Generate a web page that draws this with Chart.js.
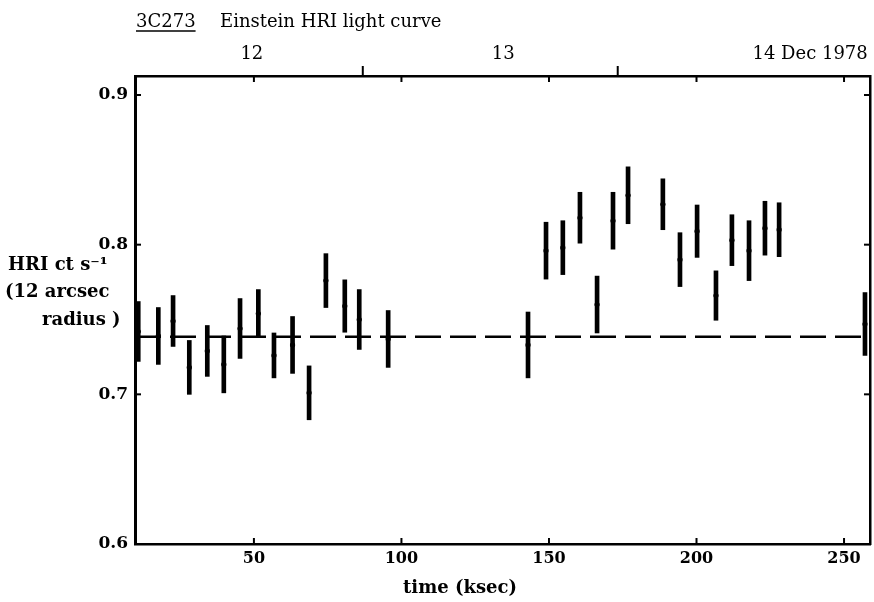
<!DOCTYPE html>
<html><head><meta charset="utf-8">
<script src="https://cdn.jsdelivr.net/npm/chart.js@4/dist/chart.umd.min.js"></script>
<style>html,body{margin:0;padding:0;background:#fff;}</style>
</head><body>
<canvas id="c" width="874" height="602"></canvas>
<script>
// ---- data ----
const times  = [10.8,17.6,22.6,28.1,34.2,39.8,45.3,51.5,56.8,63.1,68.7,74.4,80.8,85.7,95.5,
                142.9,149.0,154.7,160.5,166.3,171.7,176.8,188.6,194.4,200.2,206.6,212.0,217.8,223.2,228.0,257.1];
const rates  = [0.742,0.739,0.749,0.718,0.729,0.720,0.744,0.754,0.726,0.733,0.701,0.776,0.759,0.750,0.737,
                0.733,0.796,0.798,0.818,0.760,0.816,0.833,0.827,0.790,0.809,0.766,0.803,0.796,0.811,0.810,0.747];
const errors = [0.020,0.019,0.017,0.018,0.017,0.019,0.020,0.016,0.015,0.019,0.018,0.018,0.0175,0.020,0.019,
                0.022,0.019,0.018,0.017,0.019,0.019,0.019,0.017,0.018,0.0175,0.0165,0.017,0.020,0.018,0.018,0.021];
const meanRate = 0.7385;
const xTickValues = [50,100,150,200,250];
const yTickValues = [0.6,0.7,0.8,0.9];
const dayLabels = ['12','13','14 Dec 1978'];
const dayLabelTimes = [49.3,134.5,238.5];
const dayBoundaryTimes = [86.9,173.3];
const xMin = 9.7, xMax = 258.8, yMin = 0.6, yMax = 0.9127;

const SERIF = "'DejaVu Serif', 'Liberation Serif', serif";

const deco = {
  id: 'deco',
  afterDraw(chart) {
    const {ctx, chartArea: a, scales} = chart;
    const line = (x1,y1,x2,y2) => { ctx.beginPath(); ctx.moveTo(x1,y1); ctx.lineTo(x2,y2); ctx.stroke(); };
    ctx.save();
    ctx.strokeStyle = '#000'; ctx.lineWidth = 2;
    for (const t of scales.x.ticks) {
      const px = scales.x.getPixelForValue(t.value);
      line(px, a.bottom, px, a.bottom - 6);
      line(px, a.top, px, a.top + 6);
    }
    for (const t of scales.y.ticks) {
      if (t.value === yMin) continue;
      const py = scales.y.getPixelForValue(t.value);
      line(a.left, py, a.left + 6, py);
      line(a.right, py, a.right - 6, py);
    }
    for (const d of dayBoundaryTimes) {
      const px = scales.xT.getPixelForValue(d);
      line(px, a.top, px, a.top - 10);
    }
    // title
    ctx.fillStyle = '#000';
    ctx.textBaseline = 'alphabetic';
    ctx.textAlign = 'left';
    ctx.font = "18px " + SERIF;
    ctx.fillText('3C273', 136, 27);
    const w = ctx.measureText('3C273').width;
    ctx.lineWidth = 1.5;
    line(136, 31, 136 + w, 31);
    ctx.fillText('Einstein HRI light curve', 220, 27);
    // y-axis title
    ctx.font = "bold 18px " + SERIF;
    ctx.textBaseline = 'middle';
    ctx.fillText('HRI ct s\u207B\u00B9', 8, 265);
    ctx.fillText('(12 arcsec', 5, 292);
    ctx.fillText('radius )', 42, 320);
    // x-axis title
    ctx.textAlign = 'center';
    ctx.fillText('time (ksec)', 460, 588);
    ctx.restore();
  }
};

const noPad = s => { s.paddingLeft = 0; s.paddingRight = 0; };

new Chart(document.getElementById('c'), {
  type: 'bar',
  data: {
    datasets: [
      {
        type: 'bar',
        data: times.map((t,i) => ({x: t, y: [rates[i]-errors[i], rates[i]+errors[i]]})),
        backgroundColor: '#000', borderWidth: 0, barThickness: 4, grouped: false,
        xAxisID: 'x', yAxisID: 'y', order: 2
      },
      {
        type: 'scatter',
        data: times.map((t,i) => ({x: t, y: rates[i]})),
        pointRadius: 2.6, pointBackgroundColor: '#000', pointBorderWidth: 0,
        xAxisID: 'x', yAxisID: 'y', order: 1
      },
      {
        type: 'line',
        data: [{x: xMin, y: meanRate}, {x: xMax, y: meanRate}],
        borderColor: '#000', borderWidth: 2.5, borderDash: [26, 9], pointRadius: 0,
        xAxisID: 'x', yAxisID: 'y', order: 3
      }
    ]
  },
  options: {
    responsive: false, animation: false, devicePixelRatio: 1,
    layout: {padding: {left: 0, right: 4, top: 0, bottom: 0}},
    plugins: {legend: {display: false}, tooltip: {enabled: false}, title: {display: false}},
    scales: {
      x: {
        type: 'linear', position: 'bottom', min: xMin, max: xMax, offset: false,
        afterBuildTicks: s => { s.ticks = xTickValues.map(v => ({value: v})); },
        ticks: {color: '#000', font: {family: SERIF, weight: 'bold', size: 16}, padding: 5,
                autoSkip: false, maxRotation: 0, callback: v => String(v)},
        grid: {display: false, drawTicks: false, offset: false},
        border: {display: true, color: '#000', width: 2.5},
        afterFit: s => { s.height = 58; noPad(s); }
      },
      xT: {
        type: 'linear', position: 'top', min: xMin, max: xMax, offset: false,
        afterBuildTicks: s => { s.ticks = dayLabelTimes.map(v => ({value: v})); },
        ticks: {color: '#000', font: {family: SERIF, size: 18}, padding: 11,
                autoSkip: false, maxRotation: 0, callback: (v, i) => dayLabels[i]},
        grid: {display: false, drawTicks: false},
        border: {display: true, color: '#000', width: 2.5},
        afterFit: s => { s.height = 76; noPad(s); }
      },
      y: {
        type: 'linear', position: 'left', min: yMin, max: yMax,
        afterBuildTicks: s => { s.ticks = yTickValues.map(v => ({value: v})); },
        ticks: {color: '#000', font: {family: SERIF, weight: 'bold', size: 17}, padding: 7,
                callback: v => v.toFixed(1)},
        grid: {display: false, drawTicks: false},
        border: {display: true, color: '#000', width: 3},
        afterFit: s => { s.width = 135; }
      },
      yR: {
        type: 'linear', position: 'right', min: yMin, max: yMax,
        ticks: {display: false},
        grid: {display: false, drawTicks: false},
        border: {display: true, color: '#000', width: 2.5},
        afterFit: s => { s.width = 0; }
      }
    }
  },
  plugins: [deco]
});
</script>
</body></html>
